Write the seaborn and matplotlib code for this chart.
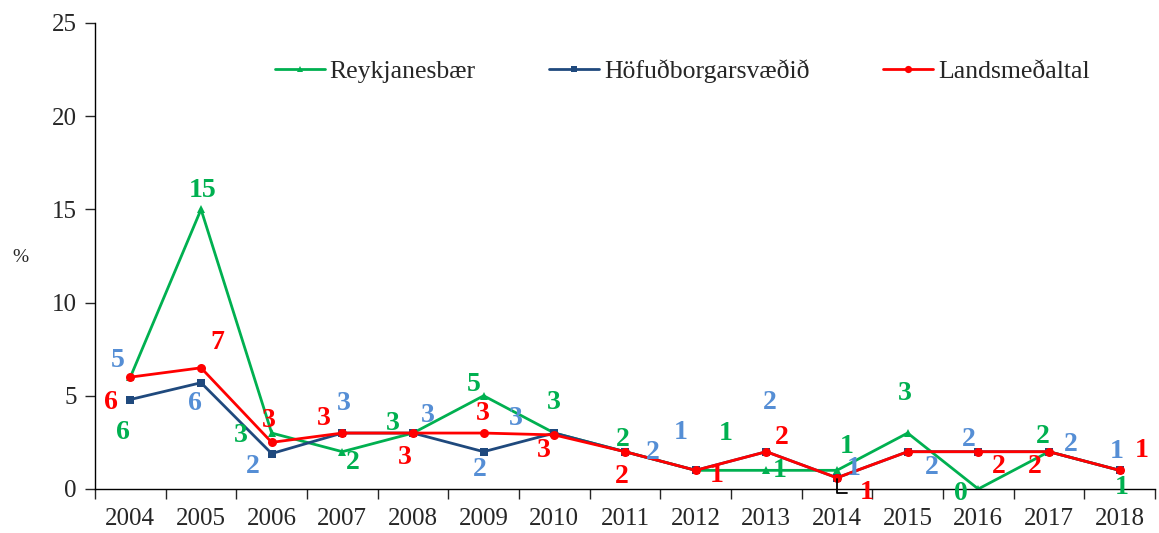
import numpy as np
import pandas as pd
import matplotlib
matplotlib.use("Agg")
import matplotlib.pyplot as plt
import seaborn as sns

# values (%)
years = list(range(2004, 2019))
reykjanesbaer = [6, 15, 3, 2, 3, 5, 3, 2, 1, 1, 1, 3, 0, 2, 1]
hofudborg = [4.8, 5.7, 1.9, 3, 3, 2, 3, 2, 1, 2, 0.6, 2, 2, 2, 1]
landsmedaltal = [6.0, 6.5, 2.5, 3, 3, 3, 2.9, 2, 1, 2, 0.6, 2, 2, 2, 1]
series_names = ["Reykjanesbær", "Höfuðborgarsvæðið", "Landsmeðaltal"]

# label offsets in pixels (dx right, dy down) from each point, None = no label
green_off = [(-7, 55), (2, -19), (-31, 2), (10, 11), (-20, -10), (-10, -11), (-1, -31),
             (-2, -12), (30, -37), (13, 0), (10, -24), (-3, -40), (-17, 5), (-6, -15), (2, 17)]
blue_off = [(-13, -39), (-6, 21), (-19, 13), (1, -30), (15, -18), (-4, 18), (-39, -15),
            (28, 1), (-15, -38), (4, -49), (17, -9), (24, 16), (-9, -12), (22, -7), (-3, -19)]
red_off = [(-19, 25), (16, -25), (-3, -22), (-19, -15), (-8, 24), (-1, -20), (-11, 16),
           (-3, 25), (21, 5), (16, -14), (30, 15), None, (21, 15), (-14, 15), (22, -20)]

sns.set_style("white")
plt.rcParams['font.family'] = ['Liberation Serif', 'DejaVu Serif']

fig = plt.figure(figsize=(11.59, 5.33), dpi=100)
ax = fig.add_axes([0.082, 0.0826, 0.9145, 0.8743])

styles = [
    ("#00B050", "^", 6, "#00B050", green_off, reykjanesbaer),
    ("#1F497D", "s", 6, "#558ED5", blue_off, hofudborg),
    ("#FF0000", "o", 6.5, "#FF0000", red_off, landsmedaltal),
]

for i, (name, (col, mk, ms, lab_col, offs, vals)) in enumerate(zip(series_names, styles)):
    df = pd.DataFrame({"year": years, "value": vals})
    sns.lineplot(data=df, x="year", y="value", color=col, marker=mk, markersize=ms,
                 markeredgewidth=0, lw=2, label=name, ax=ax, zorder=2 + i)
    for yr, v, off in zip(years, vals, offs):
        if off is None:
            continue
        txt = str(int(np.floor(v + 0.5)))
        kw = dict(textcoords="offset points", ha="center", va="center",
                  fontsize=20, fontweight="bold", color=lab_col, zorder=10)
        if name == "Landsmeðaltal" and yr == 2014:
            kw["arrowprops"] = dict(arrowstyle="-", color="black", lw=1.3,
                                    connectionstyle="angle,angleA=0,angleB=90,rad=0",
                                    shrinkA=7, shrinkB=1)
        ax.annotate(txt, xy=(yr, v), xytext=(off[0] * 0.72, -off[1] * 0.72), **kw)

ax.set_xlim(2003.5, 2018.5)
ax.set_ylim(0, 25)
ax.set_yticks([0, 5, 10, 15, 20, 25])
ax.set_xticks(years)
ax.set_xticks(np.arange(2003.5, 2019, 1), minor=True)
ax.tick_params(axis="x", which="major", length=0, labelsize=18, pad=14)
ax.tick_params(axis="x", which="minor", length=7, width=1, direction="out", bottom=True)
ax.tick_params(axis="y", length=7, width=1, direction="out", left=True, labelsize=18, pad=6)
ax.set_xlabel("")
ax.set_ylabel("")
sns.despine(ax=ax)
for s in ["left", "bottom"]:
    ax.spines[s].set_color("black")
    ax.spines[s].set_linewidth(1)

fig.text(20 / 1159, 1 - 258 / 533, "%", fontsize=14, ha="center", va="center")

ax.legend(loc="center", bbox_to_anchor=(0.554, 0.897), ncol=3, frameon=False,
          fontsize=18.5, handlelength=1.95, handletextpad=0.2, columnspacing=2.85,
          markerscale=0.8)

fig.savefig("out.png", dpi=100)
